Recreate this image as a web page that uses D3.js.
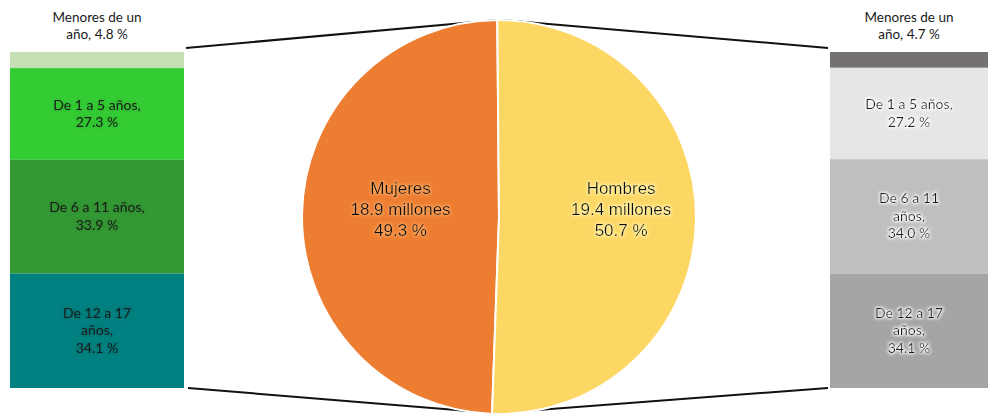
<!DOCTYPE html>
<head>
  <meta charset="utf-8">
  <script src="https://d3js.org/d3.v7.min.js"></script>
  <style>
    body { margin: 0; background: #fff; }
    .bar-text { font-family: Lato, "Open Sans", sans-serif; font-size: 14px; fill: #1a1a1a; }
    .top-text { font-family: Lato, "Open Sans", sans-serif; font-size: 13.5px; fill: #1a1a1a; }
    .pie-text { font-family: "Liberation Sans", Arial, sans-serif; font-size: 17px; fill: #111; }
  </style>
</head>
<body>
  <svg id="chart"></svg>
  <script>
    var width = 989;
    var height = 416;

    // gender split (pie)
    var genders = ["Mujeres", "Hombres"];
    var millions = [18.9, 19.4];
    var genderPct = [49.3, 50.7];

    // age groups (stacked bars)
    var ageLabels = [
      ["Menores de un", "año, {v} %"],
      ["De 1 a 5 años,", "{v} %"],
      ["De 6 a 11 años,", "{v} %"],
      ["De 12 a 17", "años,", "{v} %"]
    ];
    var ageLabelsMen = [
      ["Menores de un", "año, {v} %"],
      ["De 1 a 5 años,", "{v} %"],
      ["De 6 a 11", "años,", "{v} %"],
      ["De 12 a 17", "años,", "{v} %"]
    ];
    var womenAges = [4.8, 27.3, 33.9, 34.1];
    var menAges = [4.7, 27.2, 34.0, 34.1];

    var womenColors = ["#c5e0b4", "#33cc33", "#339933", "#008080"];
    var menColors = ["#767171", "#e7e6e6", "#bfbfbf", "#a5a5a5"];
    var pieColors = ["#ed7d31", "#fdd764"];

    var svg = d3.select("#chart")
      .attr("width", width)
      .attr("height", height);

    // glow filters for the labels
    var defs = svg.append("defs");
    function glow(id, color, dev, op) {
      var f = defs.append("filter").attr("id", id)
        .attr("x", "-20%").attr("y", "-40%").attr("width", "140%").attr("height", "180%");
      f.append("feMorphology").attr("in", "SourceAlpha").attr("operator", "dilate").attr("radius", 1).attr("result", "d");
      f.append("feGaussianBlur").attr("in", "d").attr("stdDeviation", dev).attr("result", "b");
      f.append("feFlood").attr("flood-color", color).attr("flood-opacity", op);
      f.append("feComposite").attr("in2", "b").attr("operator", "in").attr("result", "g");
      var m = f.append("feMerge");
      m.append("feMergeNode").attr("in", "g");
      m.append("feMergeNode").attr("in", "SourceGraphic");
    }
    glow("glowWhite", "#ffffff", 1.5, 0.9);
    glow("glowOrange", "#f7a35c", 1.5, 0.9);
    glow("glowYellow", "#fff2a8", 1.5, 0.9);
    glow("glowDark", "#000000", 1.5, 0.08);

    // ---- pie ----
    var cx = 499, cy = 217, r = 197;
    var rot = -0.5 * Math.PI / 180;
    var pie = d3.pie().sort(null)
      .startAngle(rot - 2 * Math.PI * genderPct[0] / 100)
      .endAngle(rot + 2 * Math.PI * genderPct[1] / 100);
    var arc = d3.arc().innerRadius(0).outerRadius(r);
    var arcs = pie(genderPct);

    var gPie = svg.append("g").attr("transform", "translate(" + cx + "," + cy + ")");

    // connector lines, drawn behind the pie
    var barTop = 52, barBottom = 388;
    var leftX0 = 10, leftX1 = 184, rightX0 = 830, rightX1 = 988;
    var lines = [
      [[leftX1 + 2, barTop - 4], [cx - 2, cy - r]],
      [[leftX1 + 4, barBottom], [cx - 6, cy + r - 1]],
      [[cx + 3, cy - r], [rightX0 - 2, barTop - 4]],
      [[cx - 2, cy + r - 1], [rightX0 - 2, barBottom]]
    ];
    svg.insert("g", "g").selectAll("line").data(lines).enter().append("line")
      .attr("x1", d => d[0][0]).attr("y1", d => d[0][1])
      .attr("x2", d => d[1][0]).attr("y2", d => d[1][1])
      .attr("stroke", "#111").attr("stroke-width", 2);

    gPie.selectAll("path").data(arcs).enter().append("path")
      .attr("d", arc)
      .attr("fill", (d, i) => pieColors[i])
      .attr("stroke", "#fff")
      .attr("stroke-width", 2);

    var labelRadius = [0.5, 0.62];
    var pieFilters = ["url(#glowOrange)", "url(#glowYellow)"];
    arcs.forEach(function(a, i) {
      var mid = (a.startAngle + a.endAngle) / 2;
      var lx = Math.sin(mid) * r * labelRadius[i];
      var t = gPie.append("text").attr("class", "pie-text")
        .attr("text-anchor", "middle")
        .attr("filter", pieFilters[i]);
      var rows = [genders[i], millions[i] + " millones", genderPct[i].toFixed(1) + " %"];
      rows.forEach(function(s, k) {
        t.append("tspan").attr("x", lx).attr("y", -21 + k * 21 - 2).text(s);
      });
    });

    // ---- stacked bars ----
    function drawBar(values, colors, labels, x0, x1, filters) {
      var total = d3.sum(values);
      var y = d3.scaleLinear().domain([0, total]).range([barTop, barBottom]);
      var cum = 0;
      var segs = values.map(function(v) {
        var s = { v: v, y0: cum, y1: cum + v };
        cum += v;
        return s;
      });
      var g = svg.append("g");
      g.selectAll("rect").data(segs).enter().append("rect")
        .attr("x", x0).attr("width", x1 - x0)
        .attr("y", d => y(d.y0))
        .attr("height", d => y(d.y1) - y(d.y0))
        .attr("fill", (d, i) => colors[i]);

      var xm = (x0 + x1) / 2;
      segs.forEach(function(s, i) {
        var rows = labels[i].map(t => t.replace("{v}", s.v.toFixed(1)));
        var lh = 17.5;
        var yc;
        if (i === 0) {
          // smallest group: label sits above the bar
          yc = 26;
        } else {
          yc = (y(s.y0) + y(s.y1)) / 2;
        }
        var t = g.append("text").attr("class", i === 0 ? "top-text" : "bar-text")
          .attr("text-anchor", "middle")
          .attr("filter", i === 0 ? null : filters);
        rows.forEach(function(str, k) {
          t.append("tspan").attr("x", xm)
            .attr("y", yc + (k - (rows.length - 1) / 2) * lh + 4.5)
            .text(str);
        });
      });
    }

    drawBar(womenAges, womenColors, ageLabels, leftX0, leftX1, "url(#glowDark)");
    drawBar(menAges, menColors, ageLabelsMen, rightX0, rightX1, "url(#glowWhite)");
  </script>
</body>
